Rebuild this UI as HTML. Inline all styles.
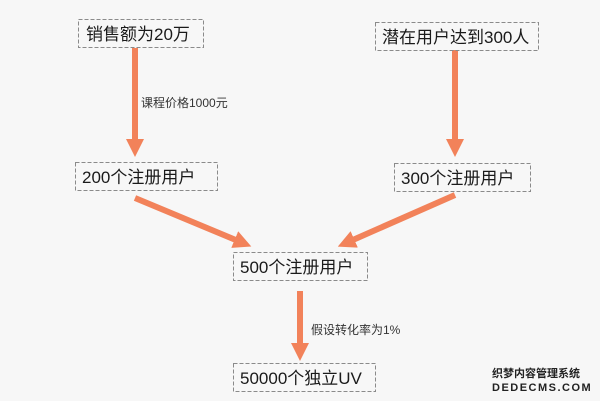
<!DOCTYPE html>
<html><head><meta charset="utf-8"><style>
body{margin:0;background:#f7f7f7;}
svg{display:block;}
text{font-family:"Liberation Sans","Noto Sans CJK SC",sans-serif;fill:#1a1a1a;}
.b{fill:none;stroke:#8a8a8a;stroke-width:1;stroke-dasharray:4,2;}
.t{font-size:17px;}
.s{font-size:12px;fill:#333;}
</style></head><body>
<svg width="600" height="401" viewBox="0 0 600 401">
<rect width="600" height="401" fill="#f7f7f7"/>
<defs><marker id="a" markerWidth="3" markerHeight="3" refX="1.5" refY="1.5" orient="auto" markerUnits="strokeWidth"><path d="M0,0 L3,1.5 L0,3z" fill="#f2825a"/></marker></defs>
<g stroke="#f2825a" stroke-width="6" fill="none">
<line x1="135" y1="48" x2="135" y2="148" marker-end="url(#a)"/>
<line x1="455" y1="50" x2="455" y2="148" marker-end="url(#a)"/>
<line x1="135" y1="198" x2="243" y2="243" marker-end="url(#a)"/>
<line x1="455" y1="195" x2="346" y2="243" marker-end="url(#a)"/>
<line x1="300" y1="291" x2="300" y2="352" marker-end="url(#a)"/>
</g>
<rect class="b" x="78.5" y="19.5" width="125" height="28"/>
<text class="t" x="86" y="40">销售额为20万</text>
<rect class="b" x="375.5" y="22.5" width="163" height="28"/>
<text class="t" x="382" y="43">潜在用户达到300人</text>
<rect class="b" x="75.5" y="162.5" width="142" height="28"/>
<text class="t" x="82" y="183">200个注册用户</text>
<rect class="b" x="394.5" y="163.5" width="136" height="28"/>
<text class="t" x="401" y="184">300个注册用户</text>
<rect class="b" x="233.5" y="252.5" width="134" height="28"/>
<text class="t" x="240" y="273">500个注册用户</text>
<rect class="b" x="233.5" y="363.5" width="142" height="28"/>
<text class="t" x="240" y="384">50000个独立UV</text>
<text class="s" x="141" y="107">课程价格1000元</text>
<text class="s" x="311" y="334">假设转化率为1%</text>
<text x="492" y="377" style="font-size:11px;font-weight:bold;fill:#222">织梦内容管理系统</text>
<text x="492" y="391" style="font-size:11px;font-weight:bold;fill:#222;letter-spacing:1.5px">DEDECMS.COM</text>
</svg>
</body></html>
